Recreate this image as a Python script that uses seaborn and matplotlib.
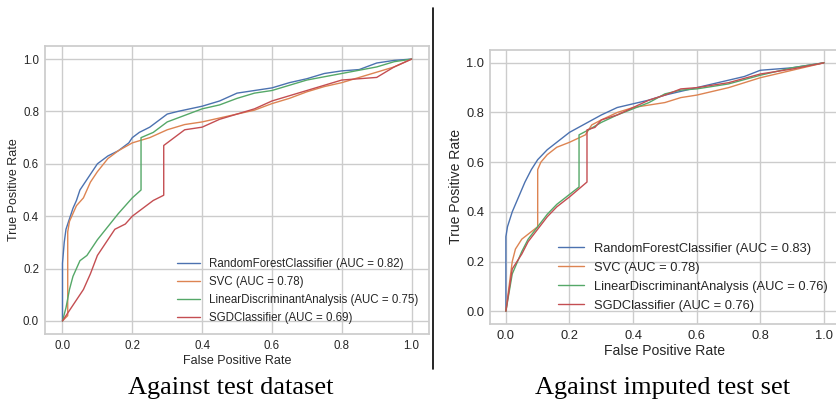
import matplotlib.pyplot as plt
import numpy as np
import pandas as pd
import seaborn as sns
from matplotlib.lines import Line2D

# ROC curves, left panel = test set, right = imputed test set
models = ["RandomForestClassifier", "SVC", "LinearDiscriminantAnalysis", "SGDClassifier"]
auc_test = [0.82, 0.78, 0.75, 0.69]
auc_imputed = [0.83, 0.78, 0.76, 0.76]

rf_test_fpr = [0, 0, 0.005, 0.01, 0.02, 0.03, 0.04, 0.05, 0.06, 0.08, 0.1, 0.13, 0.16, 0.19, 0.2, 0.22, 0.25, 0.28, 0.3,
               0.33, 0.4, 0.45, 0.5, 0.55, 0.6, 0.65, 0.7, 0.75, 0.8, 0.85, 0.9, 0.95, 1.0]
rf_test_tpr = [0, 0.22, 0.30, 0.35, 0.39, 0.43, 0.46, 0.50, 0.52, 0.56, 0.60, 0.63, 0.65, 0.68, 0.70, 0.72, 0.74, 0.77, 0.79,
               0.80, 0.82, 0.84, 0.87, 0.88, 0.89, 0.91, 0.925, 0.945, 0.955, 0.96, 0.985, 0.995, 1.0]

svc_test_fpr = [0, 0.015, 0.015, 0.02, 0.04, 0.06, 0.08, 0.1, 0.13, 0.16, 0.2, 0.25, 0.3, 0.35, 0.4, 0.45, 0.5, 0.55,
                0.6, 0.65, 0.7, 0.75, 0.8, 0.85, 0.9, 0.95, 1.0]
svc_test_tpr = [0, 0.02, 0.34, 0.38, 0.44, 0.47, 0.53, 0.57, 0.62, 0.65, 0.68, 0.70, 0.73, 0.75, 0.76, 0.775, 0.79, 0.805,
                0.83, 0.85, 0.875, 0.895, 0.91, 0.93, 0.95, 0.97, 1.0]

lda_test_fpr = [0, 0.01, 0.02, 0.03, 0.05, 0.07, 0.1, 0.13, 0.16, 0.2, 0.225, 0.225, 0.26, 0.3, 0.35, 0.4, 0.45, 0.5,
                0.55, 0.6, 0.65, 0.7, 0.8, 0.9, 0.95, 1.0]
lda_test_tpr = [0, 0.05, 0.12, 0.17, 0.23, 0.25, 0.31, 0.36, 0.41, 0.47, 0.50, 0.70, 0.72, 0.76, 0.785, 0.81, 0.825, 0.85,
                0.87, 0.88, 0.90, 0.92, 0.945, 0.97, 0.99, 1.0]

sgd_test_fpr = [0, 0.02, 0.04, 0.06, 0.08, 0.1, 0.12, 0.15, 0.18, 0.2, 0.23, 0.26, 0.29, 0.29, 0.32, 0.35, 0.4, 0.45,
                0.5, 0.55, 0.6, 0.65, 0.7, 0.75, 0.8, 0.85, 0.9, 0.95, 1.0]
sgd_test_tpr = [0, 0.04, 0.08, 0.12, 0.18, 0.25, 0.29, 0.35, 0.37, 0.40, 0.43, 0.46, 0.48, 0.67, 0.70, 0.73, 0.74, 0.77,
                0.79, 0.81, 0.84, 0.86, 0.88, 0.90, 0.92, 0.925, 0.93, 0.97, 1.0]

rf_imp_fpr = [0, 0, 0.005, 0.02, 0.04, 0.06, 0.08, 0.1, 0.13, 0.16, 0.2, 0.25, 0.3, 0.35, 0.4, 0.45, 0.5, 0.55, 0.6,
              0.65, 0.7, 0.75, 0.8, 0.85, 0.9, 0.95, 1.0]
rf_imp_tpr = [0, 0.30, 0.34, 0.40, 0.46, 0.52, 0.57, 0.61, 0.65, 0.68, 0.72, 0.755, 0.79, 0.82, 0.835, 0.85, 0.87, 0.885,
              0.90, 0.915, 0.93, 0.945, 0.97, 0.975, 0.98, 0.99, 1.0]

svc_imp_fpr = [0, 0.01, 0.02, 0.03, 0.05, 0.07, 0.1, 0.1, 0.11, 0.13, 0.16, 0.2, 0.25, 0.27, 0.3, 0.35, 0.4, 0.45, 0.5,
               0.55, 0.6, 0.7, 0.8, 0.9, 0.95, 1.0]
svc_imp_tpr = [0, 0.10, 0.20, 0.25, 0.29, 0.31, 0.34, 0.57, 0.60, 0.63, 0.66, 0.68, 0.71, 0.75, 0.77, 0.80, 0.82, 0.83,
               0.84, 0.86, 0.87, 0.90, 0.94, 0.97, 0.985, 1.0]

lda_imp_fpr = [0, 0.02, 0.03, 0.05, 0.07, 0.1, 0.13, 0.16, 0.2, 0.23, 0.23, 0.26, 0.3, 0.35, 0.4, 0.45, 0.5, 0.55, 0.6,
               0.7, 0.8, 0.9, 1.0]
lda_imp_tpr = [0, 0.15, 0.18, 0.24, 0.29, 0.34, 0.39, 0.43, 0.47, 0.50, 0.71, 0.73, 0.76, 0.79, 0.815, 0.84, 0.875, 0.89,
               0.895, 0.915, 0.95, 0.98, 1.0]

sgd_imp_fpr = [0, 0.02, 0.03, 0.05, 0.07, 0.1, 0.13, 0.16, 0.2, 0.255, 0.255, 0.28, 0.3, 0.35, 0.4, 0.45, 0.5, 0.55,
               0.6, 0.7, 0.8, 0.9, 1.0]
sgd_imp_tpr = [0, 0.17, 0.19, 0.23, 0.28, 0.33, 0.38, 0.42, 0.46, 0.52, 0.73, 0.74, 0.77, 0.79, 0.82, 0.85, 0.87, 0.895,
               0.90, 0.92, 0.955, 0.975, 1.0]

panels = [
    ("Against test dataset", auc_test,
     [(rf_test_fpr, rf_test_tpr), (svc_test_fpr, svc_test_tpr), (lda_test_fpr, lda_test_tpr), (sgd_test_fpr, sgd_test_tpr)]),
    ("Against imputed test set", auc_imputed,
     [(rf_imp_fpr, rf_imp_tpr), (svc_imp_fpr, svc_imp_tpr), (lda_imp_fpr, lda_imp_tpr), (sgd_imp_fpr, sgd_imp_tpr)]),
]

sns.set_theme(style="whitegrid", rc={"axes.edgecolor": ".8", "grid.color": ".8"})
plt.rcParams["font.family"] = ["Liberation Sans", "DejaVu Sans"]
palette = sns.color_palette("deep")

fig = plt.figure(figsize=(8.37, 4), dpi=100)
# the two panels were scaled differently in the source, so sizes differ a bit
axes_rects = [[0.0538, 0.165, 0.4588, 0.72], [0.5854, 0.191, 0.418, 0.683]]
font_sizes = [(8.3, 9.0, 0.5), (9.3, 10.1, 0.55)]
caption_x = [0.2755, 0.791]

for (caption, aucs, curves), rect, (fs_small, fs_label, spacing), cx in zip(panels, axes_rects, font_sizes, caption_x):
    ax = fig.add_axes(rect)
    for i, (name, auc, (fpr, tpr)) in enumerate(zip(models, aucs, curves)):
        curve = pd.DataFrame({"fpr": fpr, "tpr": tpr})
        sns.lineplot(data=curve, x="fpr", y="tpr", estimator=None, sort=False, color=palette[i],
                     linewidth=1.0, label=f"{name} (AUC = {auc:.2f})", ax=ax)
    ax.set_xlim(-0.05, 1.05)
    ax.set_ylim(-0.05, 1.05)
    ax.set_xticks(np.linspace(0, 1, 6))
    ax.set_yticks(np.linspace(0, 1, 6))
    ax.tick_params(labelsize=fs_small, length=0, pad=4.3, colors=".15")
    ax.set_xlabel("False Positive Rate", fontsize=fs_label, labelpad=2)
    ax.set_ylabel("True Positive Rate", fontsize=fs_label, labelpad=2)
    ax.legend(loc="lower right", frameon=False, fontsize=fs_small, labelspacing=spacing)
    fig.text(cx, 0.015, caption, ha="center", va="baseline", fontsize=19,
             family=["Liberation Serif", "DejaVu Serif"], color="black")

fig.add_artist(Line2D([433 / 837, 433 / 837], [1 - 8 / 400, 1 - 369 / 400], color="black", lw=1.2))

plt.savefig("out.png", dpi=100)
